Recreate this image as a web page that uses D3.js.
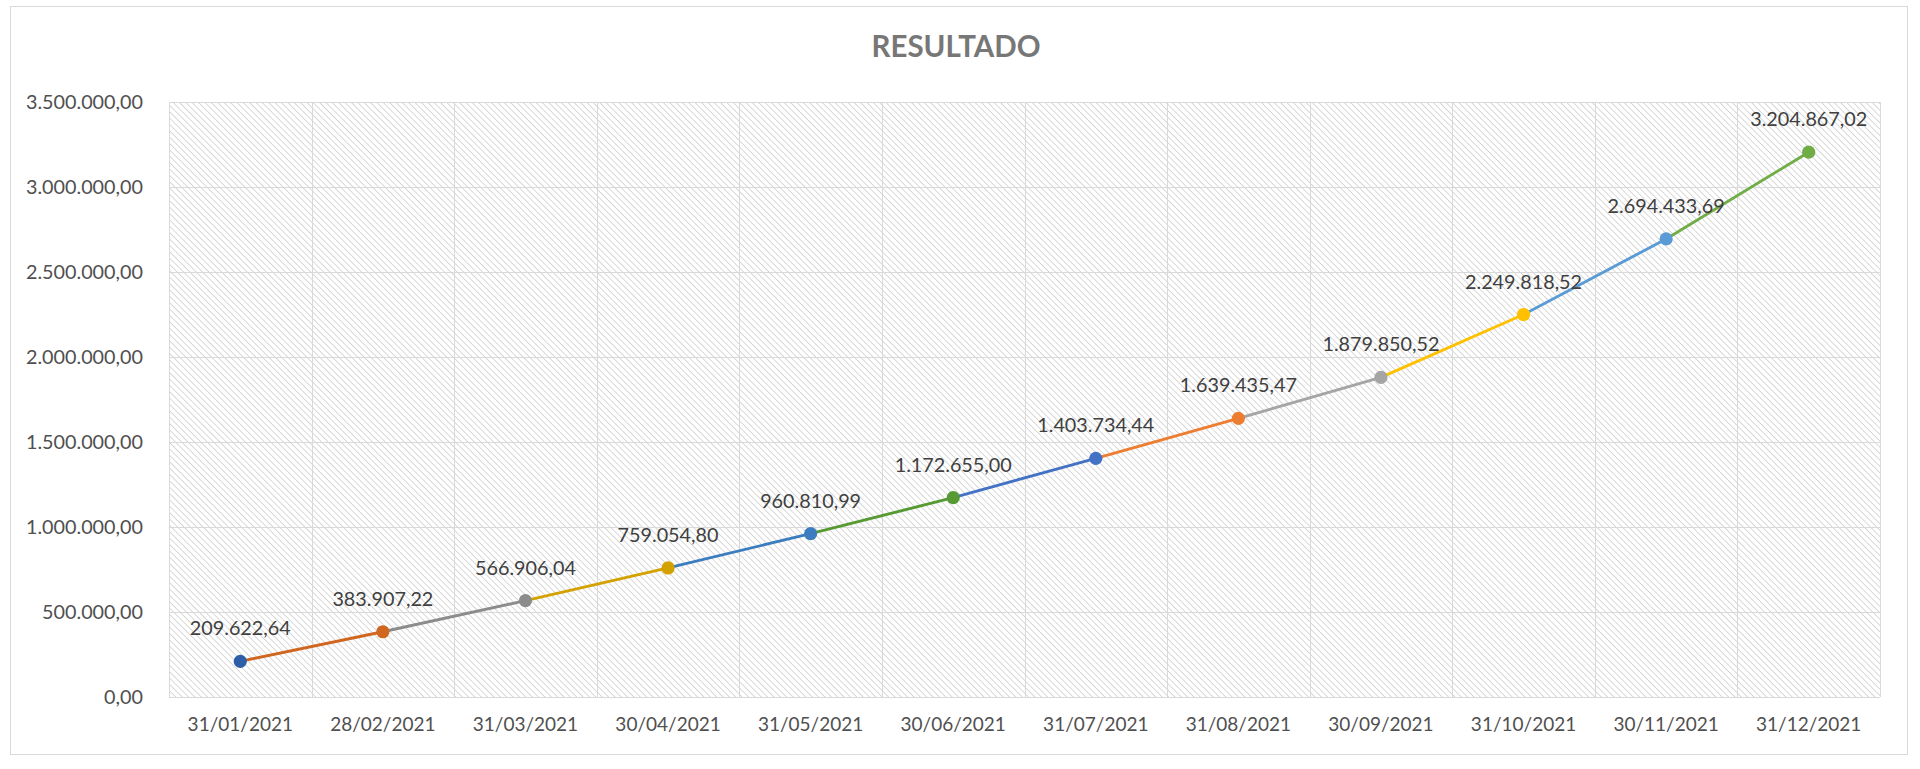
<!DOCTYPE html>
<html lang="pt">
	<head>
		<meta charset="utf-8">
		<title>Resultado</title>
		<script type="text/javascript" src="https://d3js.org/d3.v7.min.js"></script>
		<style type="text/css">
        body {
          margin: 0;
          background: white;
        }
        text {
          font-family: Lato, "Open Sans", sans-serif;
        }
        .axis path {
          display: none;
        }
        .axis line {
          stroke: #d9d9d9;
          stroke-width: 1;
          shape-rendering: crispEdges;
        }
        .y.axis text {
          fill: #505050;
          font-size: 19.8px;
        }
        .x.axis text {
          fill: #505050;
          font-size: 19px;
        }
        .label {
          fill: #404040;
          font-size: 19.8px;
          text-anchor: middle;
        }
		</style>
	</head>
	<body>
		<script type="text/javascript">
var w = 1920;
var h = 769;

// data
var dates = ["31/01/2021", "28/02/2021", "31/03/2021", "30/04/2021", "31/05/2021", "30/06/2021",
             "31/07/2021", "31/08/2021", "30/09/2021", "31/10/2021", "30/11/2021", "31/12/2021"];
var values = [209622.64, 383907.22, 566906.04, 759054.80, 960810.99, 1172655.00,
              1403734.44, 1639435.47, 1879850.52, 2249818.52, 2694433.69, 3204867.02];
var yTicks = [0, 500000, 1000000, 1500000, 2000000, 2500000, 3000000, 3500000];
var colors = ["#2f5ea9", "#d0661f", "#8c8c8c", "#d4a200", "#3b7dbf", "#579a33",
              "#4472c4", "#ed7d31", "#a5a5a5", "#ffc000", "#5b9bd5", "#70ad47"];

var ptBR = d3.formatLocale({decimal: ",", thousands: ".", grouping: [3], currency: ["R$", ""]});
var fmt = ptBR.format(",.2f");

// plot area (window.top is reserved, so plotTop etc.)
var plotLeft = 169, plotRight = 1880, plotTop = 102, plotBottom = 697;

var xScale = d3.scaleBand()
               .domain(dates)
               .range([plotLeft, plotRight]);

var yScale = d3.scaleLinear()
               .domain([0, 3500000])
               .range([plotBottom, plotTop]);

var svg = d3.select("body")
            .append("svg")
            .attr("width", w)
            .attr("height", h);

// hatch fill of the plot area
var pattern = svg.append("defs")
    .append("pattern")
    .attr("id", "hatch")
    .attr("patternUnits", "userSpaceOnUse")
    .attr("width", 4.5)
    .attr("height", 4.5)
    .attr("patternTransform", "rotate(-45)");
pattern.append("line")
    .attr("x1", 0).attr("y1", -1)
    .attr("x2", 0).attr("y2", 6)
    .attr("stroke", "#c8c8c8")
    .attr("stroke-width", 1.4);

// chart border
svg.append("rect")
    .attr("x", 10.5)
    .attr("y", 6.5)
    .attr("width", 1897)
    .attr("height", 748)
    .attr("fill", "white")
    .attr("stroke", "#d9d9d9")
    .attr("stroke-width", 1);

svg.append("rect")
    .attr("x", plotLeft)
    .attr("y", plotTop)
    .attr("width", plotRight - plotLeft)
    .attr("height", plotBottom - plotTop)
    .attr("fill", "url(#hatch)");

// title
svg.append("text")
    .attr("x", 956)
    .attr("y", 57)
    .style("text-anchor", "middle")
    .style("font-size", "29.5px")
    .style("font-weight", "bold")
    .style("fill", "#777777")
    .text("RESULTADO");

// Y axis + horizontal gridlines
var yAxis = d3.axisLeft(yScale)
    .tickValues(yTicks)
    .tickFormat(fmt)
    .tickSize(-(plotRight - plotLeft))
    .tickPadding(26);

svg.append("g")
    .attr("class", "y axis")
    .attr("transform", "translate(" + plotLeft + ",0)")
    .call(yAxis);

// vertical gridlines at category edges
var edges = dates.map(function(d) { return xScale(d); }).concat([plotRight]);
svg.selectAll(".vgrid")
    .data(edges)
    .enter()
    .append("line")
    .attr("class", "vgrid")
    .attr("x1", function(d) { return Math.round(d) + 0.5; })
    .attr("x2", function(d) { return Math.round(d) + 0.5; })
    .attr("y1", plotTop)
    .attr("y2", plotBottom)
    .attr("stroke", "#d9d9d9")
    .attr("stroke-width", 1);

// X axis
var xAxis = d3.axisBottom(xScale)
    .tickSize(0)
    .tickPadding(21);

svg.append("g")
    .attr("class", "x axis")
    .attr("transform", "translate(0," + plotBottom + ")")
    .call(xAxis);

var cx = function(i) { return xScale(dates[i]) + xScale.bandwidth() / 2; };

// line segments, each coloured like the point it leads to
var line = d3.line()
    .x(function(d) { return cx(d); })
    .y(function(d) { return yScale(values[d]); });

var segs = d3.range(1, values.length).map(function(i) { return [i - 1, i]; });

svg.selectAll(".seg")
    .data(segs)
    .enter()
    .append("path")
    .attr("class", "seg")
    .attr("d", line)
    .attr("fill", "none")
    .attr("stroke", function(d) { return colors[d[1]]; })
    .attr("stroke-width", 2.9)
    .attr("stroke-linecap", "round");

// markers
svg.selectAll("circle")
    .data(values)
    .enter()
    .append("circle")
    .attr("cx", function(d, i) { return cx(i); })
    .attr("cy", function(d) { return yScale(d); })
    .attr("r", 6.6)
    .attr("fill", function(d, i) { return colors[i]; });

// data labels
svg.selectAll(".label")
    .data(values)
    .enter()
    .append("text")
    .attr("class", "label")
    .attr("x", function(d, i) { return cx(i); })
    .attr("y", function(d) { return yScale(d) - 26; })
    .text(function(d) { return fmt(d); });
		</script>
	</body>
</html>
